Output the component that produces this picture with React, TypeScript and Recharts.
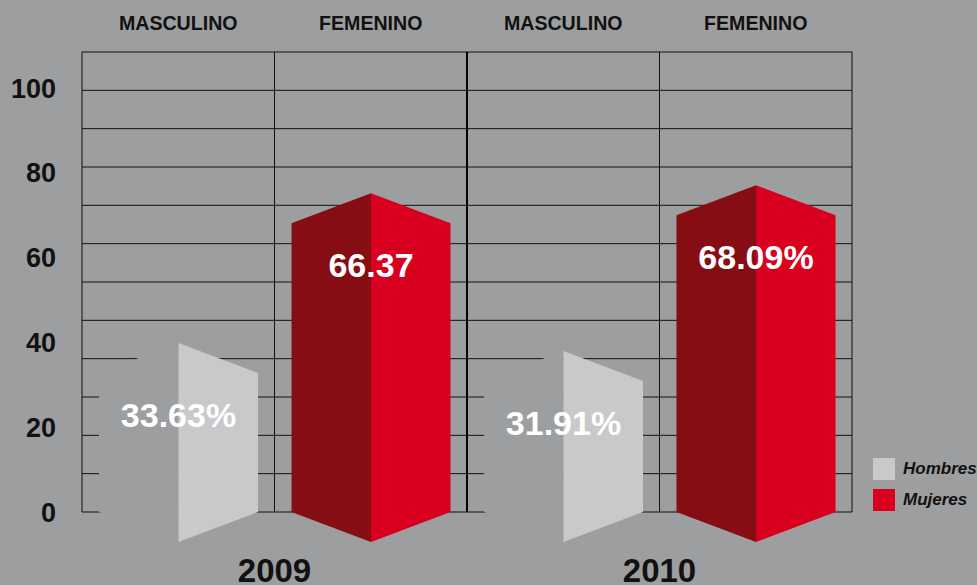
import React from 'react'
import {
  BarChart,
  Bar,
  XAxis,
  YAxis,
  CartesianGrid,
  ReferenceLine,
  LabelList,
  Legend,
} from 'recharts'

const BG = '#9d9ea0'
const FONT = '"Liberation Sans", Arial, Helvetica, sans-serif'

const categories = ['MASCULINO', 'FEMENINO', 'MASCULINO', 'FEMENINO']
const years = ['2009', '2009', '2010', '2010']
const genders = ['Hombres', 'Mujeres', 'Hombres', 'Mujeres']
const values = [33.63, 66.37, 31.91, 68.09]
const valueLabels = ['33.63%', '66.37', '31.91%', '68.09%']
const yTicks = [0, 20, 40, 60, 80, 100]
const gridRows = [0, 1, 2, 3, 4, 5, 6, 7, 8, 9, 10, 11, 12]

const legendItems = [
  { name: 'Hombres', color: '#c8c9cb' },
  { name: 'Mujeres', color: '#d9001f' },
]

const faces: Record<string, { left: string; right: string }> = {
  Hombres: { left: BG, right: '#c8c9cb' },
  Mujeres: { left: '#870d14', right: '#d9001f' },
}

const data = categories.map((c, i) => ({
  key: `${years[i]}-${c}`,
  category: c,
  year: years[i],
  gender: genders[i],
  value: values[i],
  label: valueLabels[i],
}))

// prism-like bar: two faces with a chevron top and bottom
const Prism = (props: any) => {
  const { x, y, width, height, payload } = props
  const d = 15
  const cx = x + width / 2
  const base = y + height
  const f = faces[payload.gender]
  const left = `${x},${y + d} ${cx},${y - d} ${cx},${base + 2 * d} ${x},${base}`
  const right = `${cx},${y - d} ${x + width},${y + d} ${x + width},${base} ${cx},${base + 2 * d}`
  return (
    <g>
      <polygon points={left} fill={f.left} />
      <polygon points={right} fill={f.right} />
    </g>
  )
}

const ValueLabel = (props: any) => {
  const { x, y, width, value } = props
  return (
    <text
      x={x + width / 2}
      y={y + 57}
      textAnchor="middle"
      dominantBaseline="central"
      fill="#fff"
      fontFamily={FONT}
      fontWeight="bold"
      fontSize={34}
    >
      {value}
    </text>
  )
}

const LegendBox = () => (
  <div style={{ fontFamily: FONT }}>
    {legendItems.map((it) => (
      <div key={it.name} style={{ display: 'flex', alignItems: 'center', height: 31 }}>
        <div style={{ width: 22, height: 22, background: it.color, marginRight: 8 }} />
        <span style={{ fontWeight: 'bold', fontStyle: 'italic', fontSize: 17, color: '#111' }}>
          {it.name}
        </span>
      </div>
    ))}
  </div>
)

// one vertical line at every category boundary
const bandEdges = ({ offset }: any) =>
  Array.from({ length: categories.length + 1 }, (_, i) => offset.left + (offset.width * i) / categories.length)

export default function App() {
  return (
    <div style={{ position: 'absolute', left: 0, top: 0, width: 977, height: 585, background: BG, overflow: 'hidden' }}>
      <BarChart width={977} height={585} data={data} margin={{ top: 0, right: 125, bottom: 0, left: 0 }}>
        <CartesianGrid
          xAxisId="cat"
          yAxisId="grid"
          stroke="#111"
          strokeOpacity={1}
          verticalCoordinatesGenerator={bandEdges}
        />
        <XAxis
          xAxisId="cat"
          dataKey="key"
          orientation="top"
          height={52}
          axisLine={false}
          tickLine={false}
          tickMargin={16}
          tickFormatter={(_v: any, i: number) => categories[i]}
          tick={{ fill: '#111', fontFamily: FONT, fontWeight: 'bold', fontSize: 19.6 }}
        />
        <XAxis
          xAxisId="year"
          dataKey="year"
          allowDuplicatedCategory={false}
          orientation="bottom"
          height={73}
          axisLine={false}
          tickLine={false}
          tickMargin={41}
          tick={{ fill: '#111', fontFamily: FONT, fontWeight: 'bold', fontSize: 33 }}
        />
        <YAxis
          yAxisId="lbl"
          type="number"
          domain={[0, 108.5]}
          ticks={yTicks}
          allowDataOverflow
          width={82}
          axisLine={false}
          tickLine={false}
          tickMargin={20}
          tick={{ fill: '#111', fontFamily: FONT, fontWeight: 'bold', fontSize: 27 }}
        />
        <YAxis yAxisId="grid" orientation="right" width={0} type="number" domain={[0, 12]} ticks={gridRows} allowDataOverflow hide />
        <YAxis yAxisId="val" orientation="right" width={0} type="number" domain={[0, 100.5]} ticks={[0, 100.5]} hide />
        <ReferenceLine xAxisId="year" yAxisId="grid" x="2010" position="start" stroke="#000" strokeWidth={2} />
        <Bar
          xAxisId="cat"
          yAxisId="val"
          dataKey="value"
          barSize={159}
          shape={<Prism />}
          isAnimationActive={false}
        >
          <LabelList dataKey="label" content={<ValueLabel />} />
        </Bar>
        <Legend
          content={<LegendBox />}
          layout="vertical"
          align="center"
          verticalAlign="middle"
          wrapperStyle={{ position: 'absolute', left: 873, top: 453, width: 110 }}
        />
      </BarChart>
    </div>
  )
}
